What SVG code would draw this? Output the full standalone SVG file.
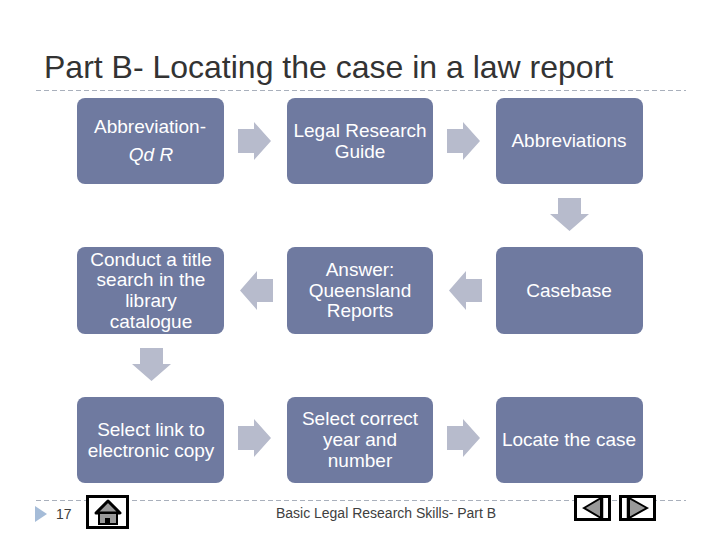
<svg xmlns="http://www.w3.org/2000/svg" width="720" height="540" viewBox="0 0 720 540">
<style>
text{font-family:"Liberation Sans",Arial,sans-serif}
.box{fill:#6f7aa0}
.t{fill:#fff;font-size:19px;text-anchor:middle}
.arr{fill:#b7bbcc}
.rule{stroke:#a9b0bc;stroke-width:1;stroke-dasharray:5 3;fill:none}
.btn{fill:#fff;stroke:#000;stroke-width:3}
.gl{fill:#999;stroke:#000;stroke-width:2}
</style>
<rect width="720" height="540" fill="#fff"/>
<text x="44" y="78" font-size="32" fill="#333">Part B- Locating the case in a law report</text>
<path class="rule" d="M36 90.500H686"/>
<path class="rule" d="M36 500.500H686"/>
<g id="connectors">
<path class="arr" d="M238 129H254V122L271 141L254 160V153H238Z"/>
<path class="arr" d="M447 129H463V122L480 141L463 160V153H447Z"/>
<path class="arr" d="M558 198H581V214H589L569.500 231L550 214H558Z"/>
<path class="arr" d="M482 279H466V271L449 290.500L466 310V302H482Z"/>
<path class="arr" d="M273 279H257V271L240 290.500L257 310V302H273Z"/>
<path class="arr" d="M140 348H163V364H171L151.500 381L132 364H140Z"/>
<path class="arr" d="M238 426H254V419L271 438L254 457V450H238Z"/>
<path class="arr" d="M447 426H463V419L480 438L463 457V450H447Z"/>
</g>
<g id="n1"><rect class="box" x="77" y="98" width="147" height="86" rx="8"/><text class="t" x="150" y="133">Abbreviation-</text><text class="t" x="151" y="161" font-style="italic">Qd R</text></g>
<g id="n2"><rect class="box" x="287" y="98" width="146" height="86" rx="8"/><text class="t" x="360" y="137">Legal Research</text><text class="t" x="360" y="158">Guide</text></g>
<g id="n3"><rect class="box" x="496" y="98" width="147" height="86" rx="8"/><text class="t" x="569" y="147">Abbreviations</text></g>
<g id="n4"><rect class="box" x="77" y="247" width="147" height="87" rx="8"/><text class="t" x="151" y="266">Conduct a title</text><text class="t" x="151" y="286">search in the</text><text class="t" x="151" y="307">library</text><text class="t" x="151" y="328">catalogue</text></g>
<g id="n5"><rect class="box" x="287" y="247" width="146" height="87" rx="8"/><text class="t" x="360" y="276">Answer:</text><text class="t" x="360" y="297">Queensland</text><text class="t" x="360" y="317">Reports</text></g>
<g id="n6"><rect class="box" x="496" y="247" width="147" height="87" rx="8"/><text class="t" x="569" y="297">Casebase</text></g>
<g id="n7"><rect class="box" x="77" y="397" width="147" height="86" rx="8"/><text class="t" x="151" y="436">Select link to</text><text class="t" x="151" y="457">electronic copy</text></g>
<g id="n8"><rect class="box" x="287" y="397" width="146" height="86" rx="8"/><text class="t" x="360" y="425">Select correct</text><text class="t" x="360" y="446">year and</text><text class="t" x="360" y="467">number</text></g>
<g id="n9"><rect class="box" x="496" y="397" width="147" height="86" rx="8"/><text class="t" x="569" y="446">Locate the case</text></g>
<path d="M35 506L47 514L35 522Z" fill="#a5bcd8"/>
<text x="56" y="519" font-size="14" fill="#404040">17</text>
<text x="386" y="518" font-size="14" fill="#404040" text-anchor="middle">Basic Legal Research Skills- Part B</text>
<g id="home"><rect class="btn" x="87.500" y="496.500" width="40" height="31"/>
<path d="M108 501L120 513H96Z" fill="#999" stroke="#000" stroke-width="3" stroke-linejoin="round"/>
<rect x="99" y="513" width="18" height="11" fill="#999" stroke="#000" stroke-width="2"/><rect x="105" y="518" width="5" height="6" fill="#000"/></g>
<g id="prev"><rect class="btn" x="575.500" y="496.500" width="34" height="23"/><path class="gl" d="M584 508L601 498V518Z"/><path d="M602 496V520" stroke="#000" stroke-width="2.500"/></g>
<g id="next"><rect class="btn" x="620.500" y="496.500" width="34" height="23"/><path class="gl" d="M647 508L629 498V518Z"/><path d="M628 496V520" stroke="#000" stroke-width="2.500"/></g>
</svg>
